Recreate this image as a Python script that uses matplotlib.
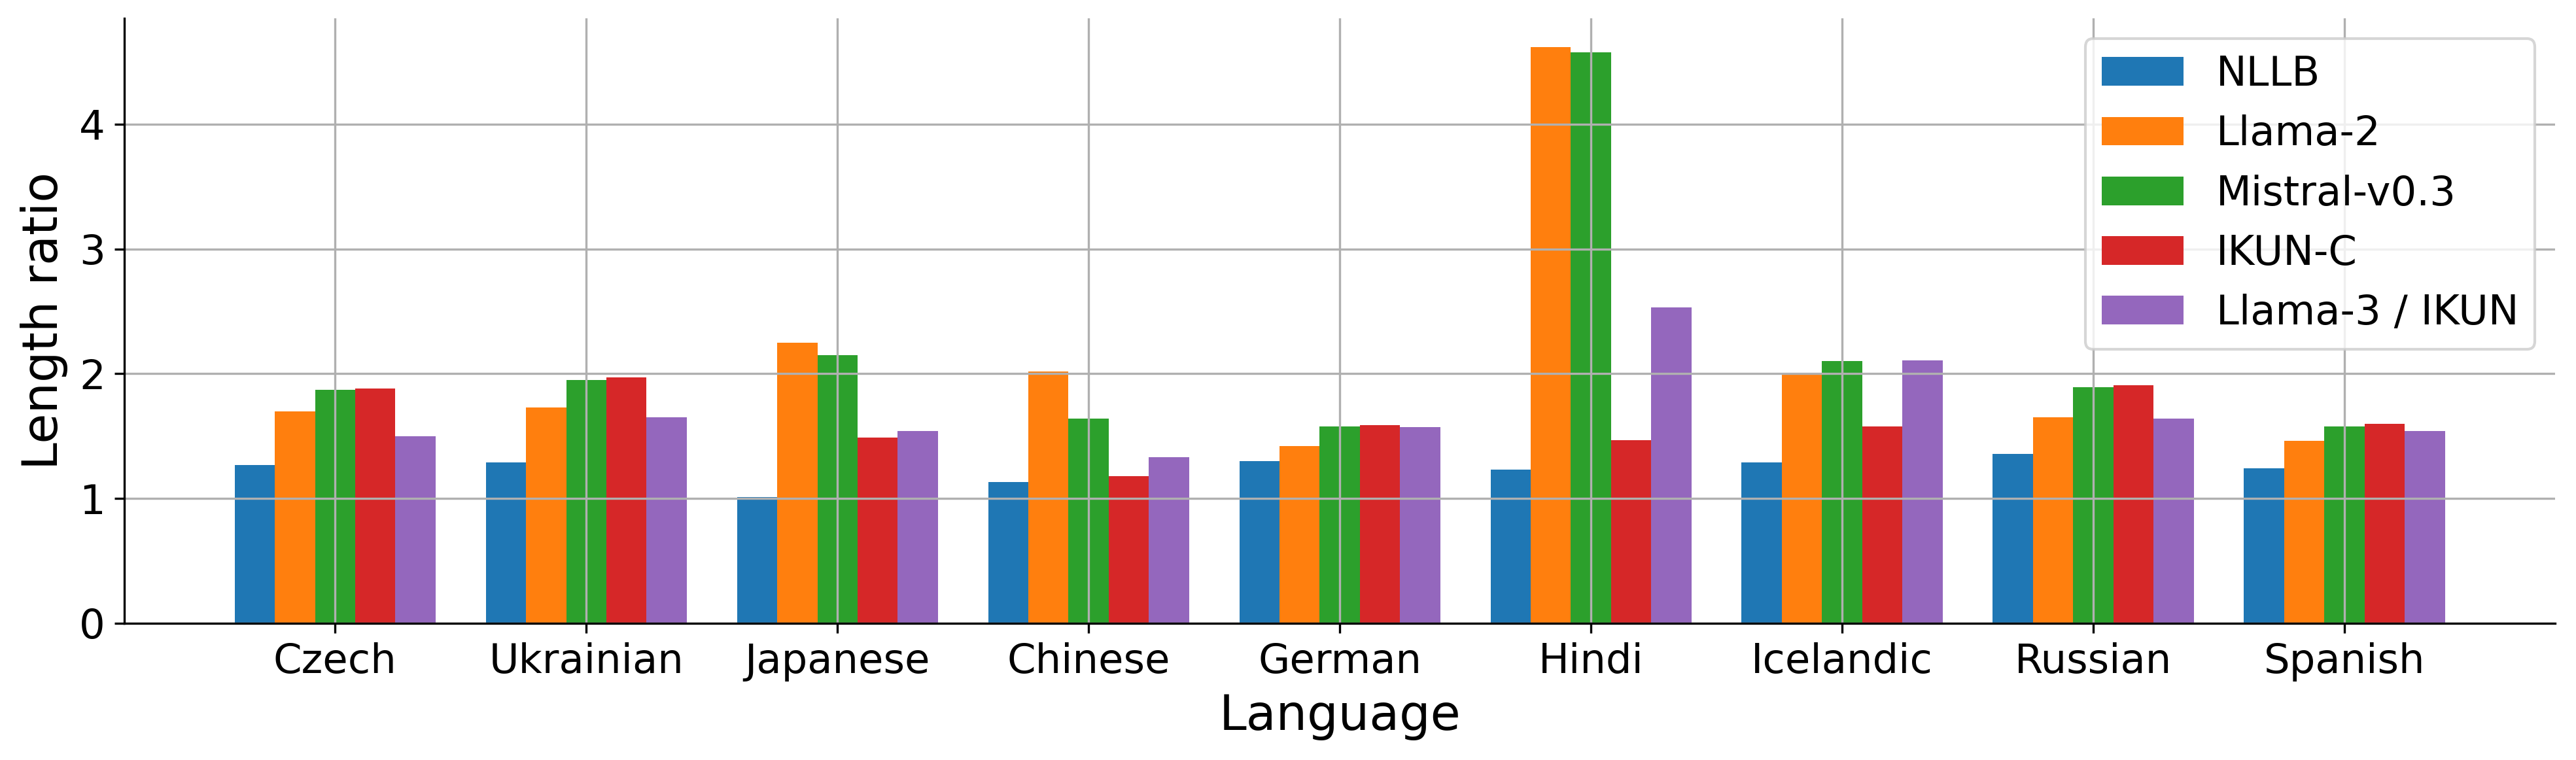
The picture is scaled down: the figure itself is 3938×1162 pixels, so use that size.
import numpy as np
import matplotlib
matplotlib.use("Agg")
from matplotlib import pyplot as plt

# length ratios
languages = ["Czech", "Ukrainian", "Japanese", "Chinese", "German",
             "Hindi", "Icelandic", "Russian", "Spanish"]
models = ["NLLB", "Llama-2", "Mistral-v0.3", "IKUN-C", "Llama-3 / IKUN"]

nllb = [1.27, 1.29, 1.01, 1.13, 1.30, 1.23, 1.29, 1.36, 1.24]
llama2 = [1.70, 1.73, 2.25, 2.02, 1.42, 4.62, 2.00, 1.65, 1.46]
mistral = [1.87, 1.95, 2.15, 1.64, 1.58, 4.58, 2.10, 1.89, 1.58]
ikunC = [1.88, 1.97, 1.49, 1.18, 1.59, 1.47, 1.58, 1.91, 1.60]
llama3ikun = [1.50, 1.65, 1.54, 1.33, 1.57, 2.53, 2.11, 1.64, 1.54]

series = [nllb, llama2, mistral, ikunC, llama3ikun]

fig, ax = plt.subplots(figsize=(3938 / 300, 1162 / 300), dpi=300)
fig.subplots_adjust(left=0.0482, right=0.992, top=0.976, bottom=0.180)

x = np.arange(len(languages))
width = 0.16
for i, (name, vals) in enumerate(zip(models, series)):
    ax.bar(x + (i - 2) * width, vals, width, label=name)

ax.set_xticks(x)
ax.set_xticklabels(languages, fontsize=15)
ax.tick_params(axis='y', labelsize=15)
ax.set_xlabel("Language", fontsize=18)
ax.set_ylabel("Length ratio", fontsize=18)
ax.grid(True)
ax.spines['top'].set_visible(False)
ax.spines['right'].set_visible(False)
ax.legend(loc='upper right', fontsize=15)

fig.savefig("out.png", dpi=300)
